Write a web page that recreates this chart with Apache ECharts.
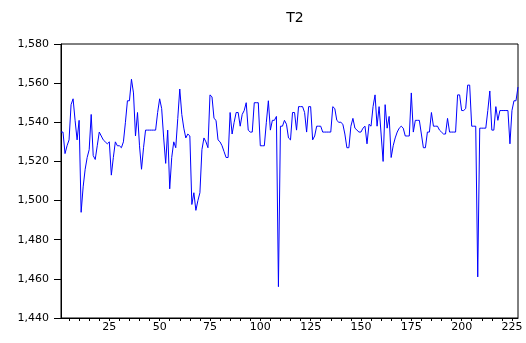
<!DOCTYPE html>
<html>
<head>
<meta charset="utf-8">
<title>T2</title>
<script src="https://cdn.jsdelivr.net/npm/echarts@6/dist/echarts.min.js"></script>
<style>
  html, body { margin: 0; padding: 0; background: #fff; }
  #chart { width: 526px; height: 343px; }
</style>
</head>
<body>
<div id="chart"></div>
<script>
const t2Values = [
  1535, 1535, 1524, 1528, 1531, 1549, 1552, 1541, 1531, 1541,
  1494, 1507, 1516, 1522, 1526, 1544, 1523, 1521, 1528, 1535,
  1533, 1531, 1530, 1529, 1530, 1513, 1522, 1530, 1528, 1528,
  1527, 1530, 1540, 1551, 1551, 1562, 1555, 1533, 1545, 1528,
  1516, 1527, 1536, 1536, 1536, 1536, 1536, 1536, 1545, 1552,
  1547, 1532, 1519, 1536, 1506, 1522, 1530, 1527, 1542, 1557,
  1544, 1537, 1532, 1534, 1533, 1498, 1504, 1495, 1500, 1504,
  1526, 1532, 1530, 1527, 1554, 1553, 1542, 1541, 1531, 1530,
  1528, 1525, 1522, 1522, 1545, 1534, 1540, 1545, 1545, 1538,
  1544, 1546, 1550, 1536, 1535, 1535, 1550, 1550, 1550, 1528,
  1528, 1528, 1540, 1551, 1536, 1541, 1541, 1543, 1456, 1538,
  1538, 1541, 1539, 1532, 1531, 1545, 1545, 1536, 1548, 1548,
  1548, 1545, 1535, 1548, 1548, 1531, 1533, 1538, 1538, 1538,
  1535, 1535, 1535, 1535, 1535, 1548, 1547, 1541, 1540, 1540,
  1539, 1534, 1527, 1527, 1538, 1542, 1537, 1536, 1535, 1535,
  1537, 1538, 1529, 1539, 1538, 1548, 1554, 1538, 1548, 1534,
  1520, 1549, 1537, 1543, 1522, 1528, 1532, 1535, 1537, 1538,
  1537, 1533, 1533, 1533, 1555, 1535, 1541, 1541, 1541, 1534,
  1527, 1527, 1535, 1535, 1545, 1538, 1538, 1538, 1536, 1535,
  1534, 1534, 1542, 1535, 1535, 1535, 1535, 1554, 1554, 1546,
  1546, 1547, 1559, 1559, 1538, 1538, 1538, 1461, 1537, 1537,
  1537, 1537, 1546, 1556, 1536, 1536, 1548, 1541, 1546, 1546,
  1546, 1546, 1546, 1529, 1546, 1551, 1551, 1558
];

// x categories are just the observation numbers
const periods = t2Values.map((v, i) => String(i + 1));

const yMin = 1440;
const yMax = 1580;
const yStep = 20;

const labelFont = 'DejaVu Sans';

const chart = echarts.init(document.getElementById('chart'), null, { renderer: 'canvas' });

chart.setOption({
  backgroundColor: '#ffffff',
  animation: false,
  title: {
    text: 'T2',
    left: 290,
    top: 6,
    textAlign: 'center',
    textStyle: {
      fontFamily: labelFont,
      fontSize: 14,
      fontWeight: 'normal',
      color: '#000'
    }
  },
  grid: {
    left: 61,
    right: 8,
    top: 44,
    bottom: 25,
    show: true,
    borderColor: '#000',
    borderWidth: 1,
    backgroundColor: '#fff'
  },
  xAxis: {
    type: 'category',
    data: periods,
    boundaryGap: false,
    axisLine: { show: true, lineStyle: { color: '#000', width: 1 } },
    axisTick: {
      show: true,
      length: 3,
      interval: (idx) => (idx + 1) % 5 === 0,
      lineStyle: { color: '#000' }
    },
    axisLabel: {
      interval: (idx) => (idx + 1) % 25 === 0,
      margin: 4,
      color: '#000',
      fontFamily: labelFont,
      fontSize: 11
    },
    splitLine: { show: false }
  },
  yAxis: {
    type: 'value',
    min: yMin,
    max: yMax,
    interval: yStep,
    axisLine: { show: true, lineStyle: { color: '#000', width: 1 } },
    axisTick: { show: true, length: 7, lineStyle: { color: '#000' } },
    axisLabel: {
      margin: 12,
      color: '#000',
      fontFamily: labelFont,
      fontSize: 11,
      formatter: (v) => String(v).replace(/\B(?=(\d{3})+(?!\d))/g, ',')
    },
    splitLine: { show: false }
  },
  series: [
    {
      name: 'T2',
      type: 'line',
      data: t2Values,
      showSymbol: false,
      symbol: 'none',
      lineStyle: { color: '#0000ff', width: 1 }
    }
  ]
});
</script>
</body>
</html>
